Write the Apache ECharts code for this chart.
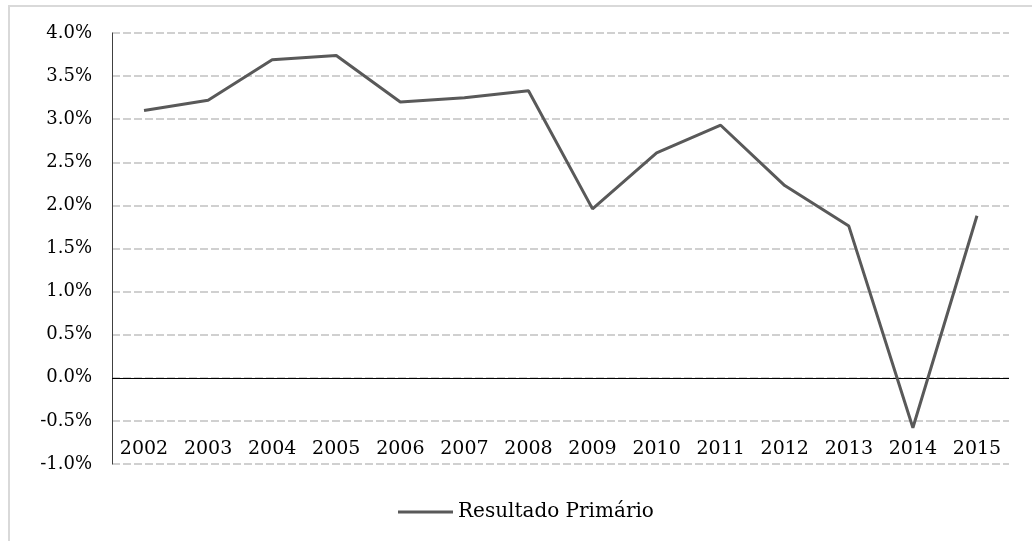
<!DOCTYPE html>
<html>
<head>
<meta charset="utf-8">
<script src="https://cdn.jsdelivr.net/npm/echarts@6/dist/echarts.min.js"></script>
<style>
  html, body { margin: 0; padding: 0; background: #fff; }
  #chart { width: 1032px; height: 541px; }
</style>
</head>
<body>
<div id="chart"></div>
<script>
// Primary fiscal result, % of GDP
const years = ['2002','2003','2004','2005','2006','2007','2008','2009','2010','2011','2012','2013','2014','2015'];
const resultadoPrimario = [3.10, 3.22, 3.69, 3.74, 3.20, 3.25, 3.33, 1.96, 2.61, 2.93, 2.23, 1.76, -0.58, 1.88];
const seriesName = 'Resultado Primário';
const yMin = -1.0, yMax = 4.0, yStep = 0.5;

const FONT = '"DejaVu Serif", "Liberation Serif", serif';

const chart = echarts.init(document.getElementById('chart'), null, { renderer: 'canvas' });

chart.setOption({
  animation: false,
  backgroundColor: '#ffffff',
  graphic: [{
    type: 'rect',
    silent: true,
    shape: { x: 9, y: 6, width: 1100, height: 600 },
    style: { fill: 'none', stroke: '#d9d9d9', lineWidth: 2 }
  }],
  grid: { left: 112, right: 23, top: 33, bottom: 77, containLabel: false },
  legend: {
    left: 393,
    top: 497,
    itemWidth: 55,
    itemHeight: 14,
    itemGap: 10,
    textStyle: { fontFamily: FONT, fontSize: 20, color: '#000' },
    data: [{ name: seriesName, icon: 'path://M0,0 L55,0 L55,3 L0,3 Z' }]
  },
  xAxis: {
    type: 'category',
    data: years,
    boundaryGap: true,
    axisLine: { show: false },
    axisTick: { show: false },
    axisLabel: {
      inside: true,
      interval: 0,
      margin: 5,
      fontFamily: FONT,
      fontSize: 19,
      color: '#000'
    },
    splitLine: { show: false }
  },
  yAxis: {
    type: 'value',
    min: yMin,
    max: yMax,
    interval: yStep,
    axisLine: { show: true, lineStyle: { color: '#404040', width: 1 } },
    axisTick: { show: false },
    axisLabel: {
      margin: 20,
      fontFamily: FONT,
      fontSize: 18,
      color: '#000',
      formatter: v => v.toFixed(1) + '%'
    },
    splitLine: {
      show: true,
      lineStyle: { color: '#d0d0d0', width: 2, type: [8, 3] }
    }
  },
  series: [{
    name: seriesName,
    type: 'line',
    data: resultadoPrimario,
    symbol: 'none',
    lineStyle: { color: '#595959', width: 3 },
    itemStyle: { color: '#595959' },
    z: 3,
    markLine: {
      silent: true,
      symbol: 'none',
      label: { show: false },
      lineStyle: { color: '#000', width: 1, type: 'solid' },
      data: [{ yAxis: 0 }],
      z: 2
    }
  }]
});
</script>
</body>
</html>
